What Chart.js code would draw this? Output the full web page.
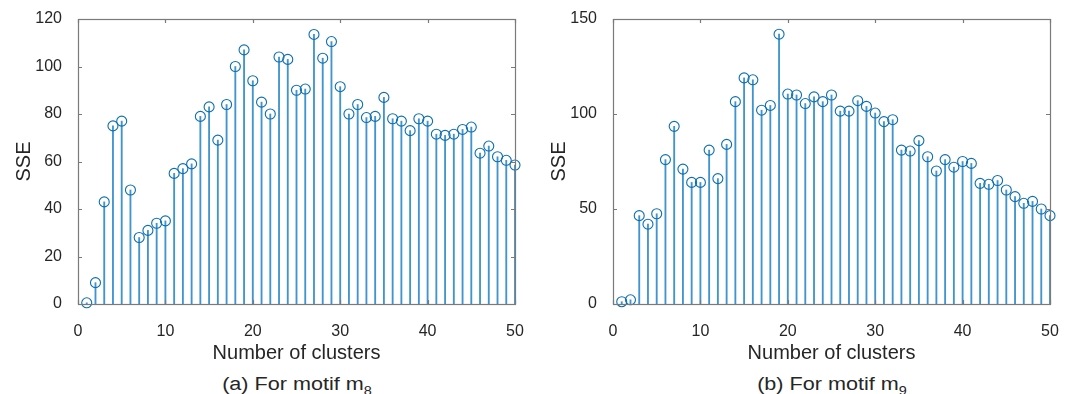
<!DOCTYPE html>
<html>
<head>
<meta charset="utf-8">
<script src="https://cdn.jsdelivr.net/npm/chart.js@4.4.1/dist/chart.umd.min.js"></script>
<style>
  html, body { margin: 0; padding: 0; background: #ffffff; }
  body { width: 1072px; height: 394px; position: relative; overflow: hidden; font-family: "Liberation Sans", Arial, sans-serif; }
  .wrap { position: absolute; top: 0; width: 536px; height: 365px; }
  .cap { position: absolute; top: 374px; width: 536px; text-align: center; font-size: 18px; color: #262626;
         transform: scaleX(1.2); transform-origin: 50% 50%; white-space: nowrap; }
  .cap sub { font-size: 12px; vertical-align: -5px; line-height: 0; }
</style>
</head>
<body>
<div class="wrap" style="left:0px"><canvas id="c1" width="536" height="365"></canvas></div>
<div class="wrap" style="left:535px"><canvas id="c2" width="536" height="365"></canvas></div>
<div class="cap" style="left:29px">(a) For motif m<sub>8</sub></div>
<div class="cap" style="left:564px">(b) For motif m<sub>9</sub></div>
<script>
// ---- data ----
const clusters = Array.from({length: 50}, (_, i) => i + 1);
const sseM8 = [0.5, 9, 43, 75, 77, 48, 28, 31, 34, 35,
               55, 57, 59, 79, 83, 69, 84, 100, 107, 94,
               85, 80, 104, 103, 90, 90.5, 113.5, 103.5, 110.5, 91.5,
               80, 84, 78.5, 79, 87, 78, 77, 73, 78, 77,
               71.5, 71, 71.5, 73.5, 74.5, 63.5, 66.5, 62, 60.5, 58.5];
const sseM9 = [1.2, 2.2, 46.5, 42, 47.5, 76, 93.5, 71, 64, 64,
               81, 66, 84, 106.5, 119, 118, 102, 104.5, 142, 110.5,
               110, 105.5, 109, 106.5, 110, 101.5, 101.5, 107, 104, 100.5,
               96, 97, 81, 80.5, 86, 77.5, 70, 76, 72, 75,
               74, 63.5, 63, 65, 60, 56.5, 53, 54, 50, 46.5];
const xTicks = [0, 10, 20, 30, 40, 50];
const yTicksM8 = [0, 20, 40, 60, 80, 100, 120];
const yTicksM9 = [0, 50, 100, 150];

const FONT = '"Liberation Sans", Arial, sans-serif';
const TEXT = '#262626';
const AXIS = '#7a7a7a';
const STEM = 'rgba(0,114,189,0.75)';
const MARK = '#0d6fb0';

const matlabBox = {
  id: 'matlabBox',
  afterDatasetsDraw(chart) {
    const {ctx, chartArea: a, scales} = chart;
    ctx.save();
    ctx.strokeStyle = AXIS;
    ctx.lineWidth = 1.2;
    ctx.strokeRect(Math.round(a.left) + 0.5, Math.round(a.top) + 0.5,
                   Math.round(a.right - a.left), Math.round(a.bottom - a.top));
    const L = 4;
    ctx.beginPath();
    scales.x.ticks.forEach(t => {
      const px = Math.round(scales.x.getPixelForValue(t.value)) + 0.5;
      ctx.moveTo(px, a.bottom); ctx.lineTo(px, a.bottom - L);
      ctx.moveTo(px, a.top); ctx.lineTo(px, a.top + L);
    });
    scales.y.ticks.forEach(t => {
      const py = Math.round(scales.y.getPixelForValue(t.value)) + 0.5;
      ctx.moveTo(a.left, py); ctx.lineTo(a.left + L, py);
      ctx.moveTo(a.right, py); ctx.lineTo(a.right - L, py);
    });
    ctx.stroke();
    ctx.restore();
  }
};

function makeChart(id, values, yTicks) {
  const pts = clusters.map((c, i) => ({x: c, y: values[i]}));
  const yMax = yTicks[yTicks.length - 1];
  return new Chart(document.getElementById(id), {
    data: {
      datasets: [
        {
          type: 'scatter',
          data: pts,
          pointStyle: 'circle',
          pointRadius: 5,
          pointHoverRadius: 5,
          pointBackgroundColor: 'rgba(0,0,0,0)',
          pointBorderColor: MARK,
          pointBorderWidth: 1.1,
          clip: false,
          order: 0
        },
        {
          type: 'bar',
          data: pts,
          backgroundColor: STEM,
          borderWidth: 0,
          barThickness: 1.2,
          order: 1
        }
      ]
    },
    options: {
      responsive: false,
      animation: false,
      events: [],
      layout: { padding: { left: 0, right: 21, top: 19, bottom: 0 } },
      plugins: { legend: { display: false }, tooltip: { enabled: false } },
      scales: {
        x: {
          type: 'linear',
          min: 0, max: 50,
          offset: false,
          afterBuildTicks: s => { s.ticks = xTicks.map(v => ({value: v})); },
          afterFit: s => { s.height = 61; },
          grid: { display: false },
          border: { display: false },
          ticks: { color: TEXT, font: { family: FONT, size: 16 }, padding: 10, maxRotation: 0 },
          title: { display: true, text: 'Number of clusters', color: TEXT,
                   font: { family: FONT, size: 20 }, padding: { top: 0, bottom: 0 } }
        },
        y: {
          type: 'linear',
          min: 0, max: yMax,
          afterBuildTicks: s => { s.ticks = yTicks.map(v => ({value: v})); },
          afterFit: s => { s.width = 78; },
          grid: { display: false },
          border: { display: false },
          ticks: { color: TEXT, font: { family: FONT, size: 16 }, padding: 8 },
          title: { display: true, text: 'SSE', color: TEXT,
                   font: { family: FONT, size: 20 }, padding: { top: 12, bottom: 0 } }
        }
      }
    },
    plugins: [matlabBox]
  });
}

makeChart('c1', sseM8, yTicksM8);
makeChart('c2', sseM9, yTicksM9);
</script>
</body>
</html>
